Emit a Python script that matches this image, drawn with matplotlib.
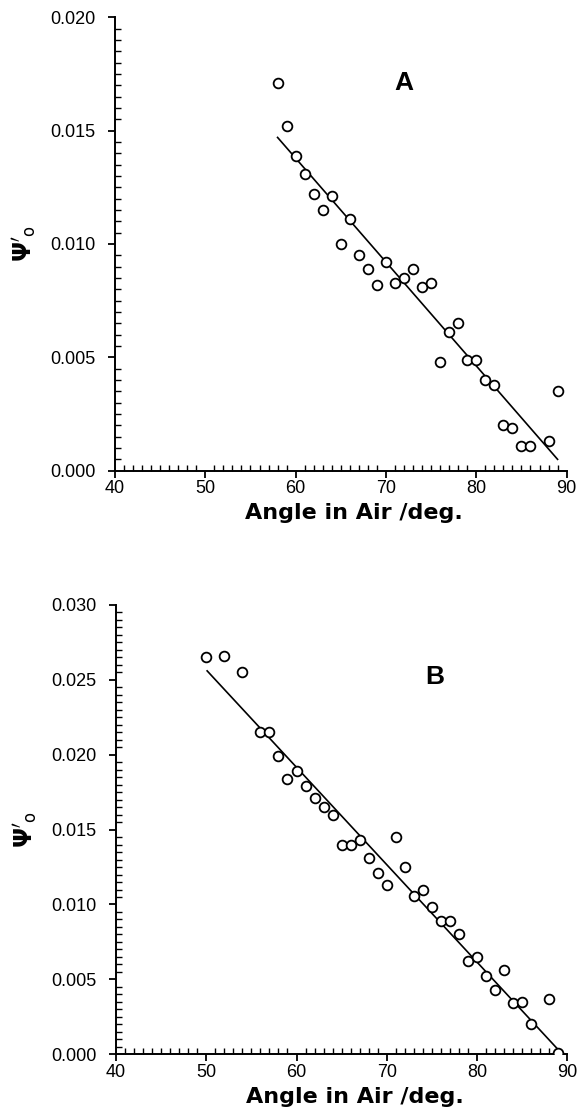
import matplotlib
matplotlib.use("Agg")
import matplotlib.pyplot as plt
from matplotlib.ticker import MultipleLocator, FormatStrFormatter

# panel A: angle of incidence (deg) vs psi'_o
angle_a = [58, 59, 60, 61, 62, 63, 64, 65, 66, 67, 68, 69, 70, 71, 72, 73,
           74, 75, 76, 77, 78, 79, 80, 81, 82, 83, 84, 85, 86, 88, 89]
psi_a = [0.0171, 0.0152, 0.0139, 0.0131, 0.0122, 0.0115, 0.0121, 0.0100,
         0.0111, 0.0095, 0.0089, 0.0082, 0.0092, 0.0083, 0.0085, 0.0089,
         0.0081, 0.0083, 0.0048, 0.0061, 0.0065, 0.0049, 0.0049, 0.0040,
         0.0038, 0.0020, 0.0019, 0.0011, 0.0011, 0.0013, 0.0035]
fit_x_a = [58, 89]
fit_y_a = [0.0147, 0.0005]

# panel B
angle_b = [50, 52, 54, 56, 57, 58, 59, 60, 61, 62, 63, 64, 65, 66, 67, 68,
           69, 70, 71, 72, 73, 74, 75, 76, 77, 78, 79, 80, 81, 82, 83, 84,
           85, 86, 88, 89]
psi_b = [0.0265, 0.0266, 0.0255, 0.0215, 0.0215, 0.0199, 0.0184, 0.0189,
         0.0179, 0.0171, 0.0165, 0.0160, 0.0140, 0.0140, 0.0143, 0.0131,
         0.0121, 0.0113, 0.0145, 0.0125, 0.0106, 0.0110, 0.0098, 0.0089,
         0.0089, 0.0080, 0.0062, 0.0065, 0.0052, 0.0043, 0.0056, 0.0034,
         0.0035, 0.0020, 0.0037, 0.0001]
fit_x_b = [50.1, 89]
fit_y_b = [0.0256, 0.0003]

plt.rcParams["font.family"] = ["Liberation Sans", "DejaVu Sans"]
plt.rcParams["mathtext.fontset"] = "dejavusans"

fig = plt.figure(figsize=(5.79, 11.08), dpi=100)


def panel(rect, x, y, fx, fy, ymax, tag, tag_xy):
    ax = fig.add_axes(rect)
    ax.plot(fx, fy, color="black", linewidth=1.2, zorder=2)
    ax.plot(x, y, linestyle="none", marker="o", markersize=7,
            markerfacecolor="white", markeredgecolor="black",
            markeredgewidth=1.3, zorder=3)
    ax.set_xlim(40, 90)
    ax.set_ylim(0, ymax)
    ax.xaxis.set_major_locator(MultipleLocator(10))
    ax.xaxis.set_minor_locator(MultipleLocator(1))
    ax.yaxis.set_major_locator(MultipleLocator(0.005))
    ax.yaxis.set_minor_locator(MultipleLocator(0.0005))
    ax.yaxis.set_major_formatter(FormatStrFormatter("%.3f"))
    for s in ("top", "right"):
        ax.spines[s].set_visible(False)
    for s in ("left", "bottom"):
        ax.spines[s].set_linewidth(1.4)
    ax.tick_params(which="major", direction="out", length=5, width=1.3,
                   labelsize=13)
    ax.tick_params(which="minor", direction="in", length=4, width=1.0)
    ax.tick_params(axis="y", which="major", pad=9)
    ax.tick_params(axis="x", which="major", pad=2)
    ax.set_xlabel("Angle in Air /deg.", fontsize=16, fontweight="bold",
                  family="DejaVu Sans")
    ax.xaxis.set_label_coords(0.53, -0.072)
    ax.set_ylabel(r"$\mathbf{\Psi}'_{\mathrm{o}}$", fontsize=17)
    ax.yaxis.set_label_coords(-0.17, 0.5)
    ax.text(tag_xy[0], tag_xy[1], tag, fontsize=19, fontweight="bold",
            ha="center", va="center")
    return ax


panel([0.1986, 0.5752, 0.780, 0.4092], angle_a, psi_a, fit_x_a, fit_y_a,
      0.020, "A", (72.0, 0.0171))
panel([0.2003, 0.0485, 0.7795, 0.4055], angle_b, psi_b, fit_x_b, fit_y_b,
      0.030, "B", (75.3, 0.0252))

fig.savefig("out.png", dpi=100)
